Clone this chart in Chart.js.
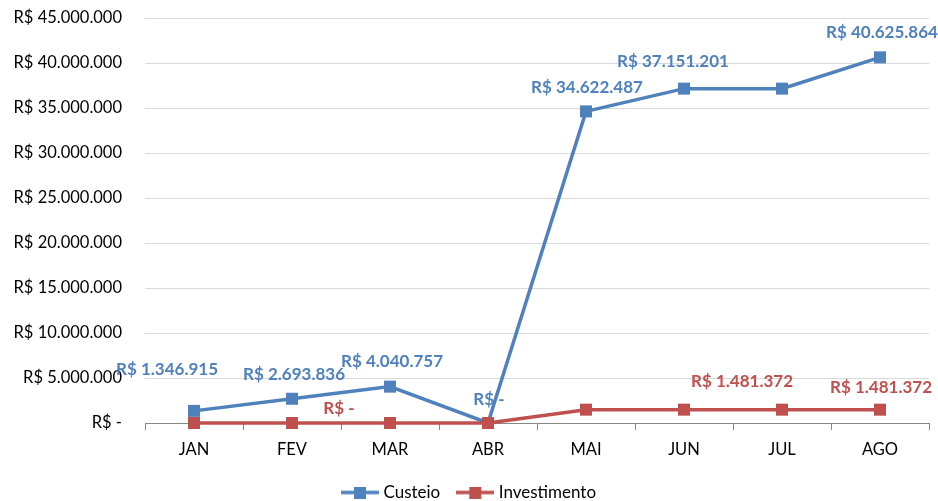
<!DOCTYPE html>
<html>
<head>
<meta charset="utf-8">
<script src="https://cdn.jsdelivr.net/npm/chart.js@4.4.1/dist/chart.umd.min.js"></script>
<style>
  html, body { margin: 0; padding: 0; background: #fff; }
  #wrap { width: 938px; height: 501px; position: relative; overflow: hidden; }
</style>
</head>
<body>
<div id="wrap"><canvas id="chart"></canvas></div>
<script>
const months = ['JAN', 'FEV', 'MAR', 'ABR', 'MAI', 'JUN', 'JUL', 'AGO'];
const custeio = [1346915, 2693836, 4040757, 0, 34622487, 37151201, 37151201, 40625864];
const investimento = [0, 0, 0, 0, 1481372, 1481372, 1481372, 1481372];
// which points carry a data label in the original
const custeioShown = [true, true, true, true, true, true, false, true];
const investShown = [false, true, false, false, false, false, true, true];

const yMax = 45000000;
const yStep = 5000000;

const BLUE = '#4F81BD';
const RED = '#C0504D';
const FONT = 'Lato, "Open Sans", sans-serif';

// label nudges relative to the point (px)
const custeioNudge = [[-27, -41], [2, -24], [2, -25], [1, -23], [1, -24], [-11, -27], [0, -25], [2, -25]];
const investNudge = [[0, -14], [47, -14], [0, -14], [0, -14], [0, -22], [0, -22], [-40, -28], [1, -22]];

function money(v) {
    if (v === 0) return 'R$ -';
    return 'R$ ' + String(Math.round(v)).replace(/\B(?=(\d{3})+(?!\d))/g, '.');
}

function legendIcon(color) {
    const c = document.createElement('canvas');
    c.width = 38; c.height = 12;
    const g = c.getContext('2d');
    g.strokeStyle = color;
    g.lineWidth = 3.5;
    g.beginPath(); g.moveTo(0, 6); g.lineTo(38, 6); g.stroke();
    g.fillStyle = color;
    g.fillRect(13, 0, 12, 12);
    return c;
}

const dataLabels = {
    id: 'dataLabels',
    afterDatasetsDraw(chart) {
        const ctx = chart.ctx;
        const sets = [
            { idx: 0, shown: custeioShown, nudge: custeioNudge, color: BLUE },
            { idx: 1, shown: investShown, nudge: investNudge, color: RED }
        ];
        ctx.save();
        ctx.font = 'bold 17px ' + FONT;
        ctx.textAlign = 'center';
        ctx.textBaseline = 'middle';
        sets.forEach(s => {
            const meta = chart.getDatasetMeta(s.idx);
            const vals = chart.data.datasets[s.idx].data;
            meta.data.forEach((pt, i) => {
                if (!s.shown[i]) return;
                ctx.fillStyle = s.color;
                ctx.fillText(money(vals[i]), pt.x + s.nudge[i][0], pt.y + s.nudge[i][1]);
            });
        });
        ctx.restore();
    }
};

new Chart(document.getElementById('chart'), {
    type: 'line',
    data: {
        labels: months,
        datasets: [
            {
                label: 'Custeio',
                data: custeio,
                borderColor: BLUE,
                backgroundColor: BLUE,
                borderWidth: 3.5,
                pointStyle: 'rect',
                pointRadius: 8.5,
                pointHoverRadius: 8.5,
                pointBorderWidth: 0,
                tension: 0,
                clip: false,
                order: 2
            },
            {
                label: 'Investimento',
                data: investimento,
                borderColor: RED,
                backgroundColor: RED,
                borderWidth: 3.5,
                pointStyle: 'rect',
                pointRadius: 8.5,
                pointHoverRadius: 8.5,
                pointBorderWidth: 0,
                tension: 0,
                clip: false,
                order: 1
            }
        ]
    },
    options: {
        responsive: true,
        maintainAspectRatio: false,
        animation: false,
        layout: { padding: { left: 12, right: 9, top: 18, bottom: -10 } },
        scales: {
            x: {
                offset: true,
                afterFit(scale) { scale.height = 41; },
                grid: {
                    offset: true,
                    drawOnChartArea: false,
                    drawTicks: true,
                    tickLength: 7,
                    color: '#868686'
                },
                border: { display: true, color: '#868686', width: 1 },
                ticks: {
                    color: '#000',
                    font: { family: FONT, size: 16.5 },
                    padding: 10,
                    maxRotation: 0
                }
            },
            y: {
                min: 0,
                max: yMax,
                afterFit(scale) { scale.width = 133; },
                grid: { color: '#d9d9d9', drawTicks: true, tickLength: 21, tickColor: 'rgba(0,0,0,0)' },
                border: { display: false },
                ticks: {
                    stepSize: yStep,
                    color: '#000',
                    font: { family: FONT, size: 16.5 },
                    padding: 2,
                    callback: v => money(v)
                }
            }
        },
        plugins: {
            legend: {
                position: 'bottom',
                labels: {
                    color: '#000',
                    font: { family: FONT, size: 17 },
                    usePointStyle: true,
                    pointStyleWidth: 30,
                    padding: 20,
                    generateLabels(chart) {
                        return chart.data.datasets.map((ds, i) => ({
                            text: ds.label,
                            fillStyle: ds.borderColor,
                            strokeStyle: ds.borderColor,
                            pointStyle: legendIcon(ds.borderColor),
                            datasetIndex: i,
                            hidden: false,
                            fontColor: '#000'
                        }));
                    }
                }
            },
            tooltip: { enabled: false }
        }
    },
    plugins: [dataLabels]
});
</script>
</body>
</html>
